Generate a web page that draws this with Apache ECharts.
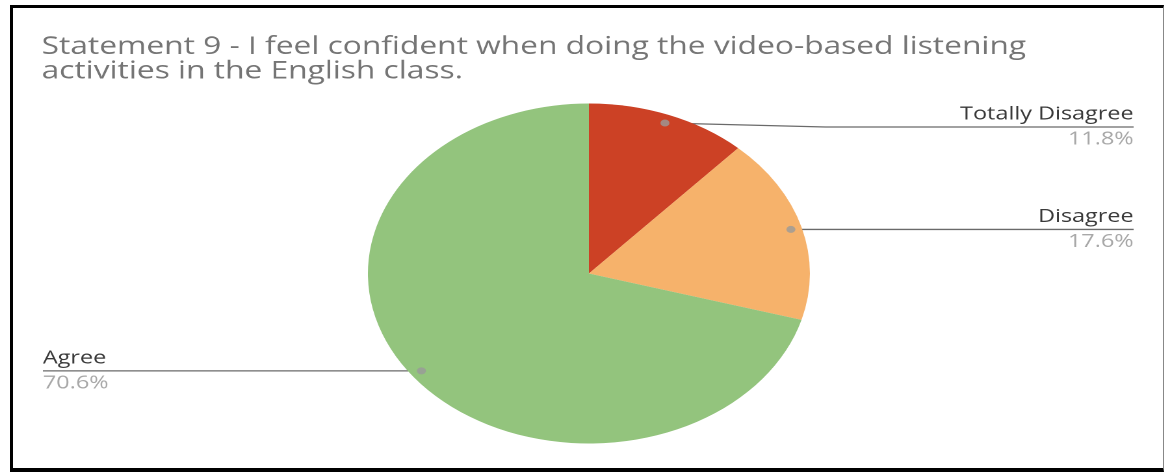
<!DOCTYPE html>
<html>
<head>
<meta charset="utf-8">
<script src="https://cdn.jsdelivr.net/npm/echarts@6/dist/echarts.min.js"></script>
<style>
  html, body { margin: 0; padding: 0; background: #fff; }
  #wrap { position: relative; width: 1164px; height: 472px; overflow: hidden; background: #fff; }
  /* the chart is laid out narrow and stretched horizontally */
  #chart { position: absolute; left: 0; top: 0; width: 895px; height: 472px;
           transform: scaleX(1.3); transform-origin: 0 0; }
  #frame { position: absolute; left: 10px; top: 5px; width: 1150px; height: 460px;
           border-top: 3px solid #000; border-left: 3px solid #000; border-bottom: 4px solid #000;
           border-right: 1px solid #888; pointer-events: none; }
</style>
</head>
<body>
<div id="wrap">
  <div id="chart"></div>
  <div id="frame"></div>
</div>
<script>
// Responses to statement 9
const titleLines = [
  'Statement 9 - I feel confident when doing the video-based listening',
  'activities in the English class.'
];
const categories = ['Totally Disagree', 'Disagree', 'Agree'];
const percents = [11.8, 17.6, 70.6];
const colors = ['#cc4125', '#f6b26b', '#93c47d'];

const chartEl = document.getElementById('chart');
const chart = echarts.init(chartEl, null, { renderer: 'canvas', devicePixelRatio: 2 });

const FONT = 'Open Sans';
const CENTER = [453, 273.5];
const RADIUS = 170;
const DOT_R = 0.95;          // leader lines start inside the slice
const LEFT_EDGE = 33;
const RIGHT_EDGE = 872;
const LABEL_TOP = 127;       // labels stay below the title area
const BEND_GAP = 12;         // leader elbow just outside the pie

// middle of each slice, in percent along the circle
const mids = [];
let acc = 0;
percents.forEach(v => { mids.push(acc + v / 2); acc += v; });

const pieData = categories.map((name, i) => ({
  name, value: percents[i], itemStyle: { color: colors[i] }
}));

const option = {
  backgroundColor: '#fff',
  animation: false,
  title: {
    text: titleLines.join('\n'),
    left: 27, top: 30,
    textStyle: {
      fontFamily: FONT, fontWeight: 'normal', fontSize: 24.4,
      lineHeight: 24.5, color: '#757575'
    }
  },
  polar: { center: CENTER, radius: RADIUS },
  angleAxis: { type: 'value', min: 0, max: 100, startAngle: 90, clockwise: true, show: false },
  radiusAxis: { type: 'value', min: 0, max: 1, show: false },
  series: [
    {
      type: 'pie',
      center: CENTER,
      radius: RADIUS,
      startAngle: 90,
      clockwise: true,
      silent: true,
      data: pieData,
      itemStyle: { borderWidth: 0 },
      label: {
        show: true,
        position: 'outside',
        formatter: p => '{n|' + p.name + '}\n{v|' + p.value.toFixed(1) + '%}',
        rich: {
          n: { fontFamily: FONT, fontSize: 18, color: '#3a3a3a', lineHeight: 25 },
          v: { fontFamily: FONT, fontSize: 18, color: '#a8a8a8', lineHeight: 25 }
        }
      },
      labelLine: { show: true, length: 10, length2: 10, lineStyle: { color: '#6a6a6a', width: 1.3 } },
      labelLayout: function (params) {
        const pts = params.labelLinePoints;
        if (!pts) return {};
        const p0 = pts[0];
        const sx = CENTER[0] + DOT_R * (p0[0] - CENTER[0]);
        const sy = CENTER[1] + DOT_R * (p0[1] - CENTER[1]);
        const isLeft = sx < CENTER[0];
        const ex = isLeft ? LEFT_EDGE : RIGHT_EDGE;
        const ly = Math.max(sy, LABEL_TOP);
        const bx = isLeft ? CENTER[0] - RADIUS - BEND_GAP : CENTER[0] + RADIUS + BEND_GAP;
        return {
          x: ex,
          y: ly,
          align: isLeft ? 'left' : 'right',
          verticalAlign: 'middle',
          labelLinePoints: [[sx, sy], ly === sy ? [sx, sy] : [bx, ly], [ex, ly]]
        };
      }
    },
    {
      // anchor dots where the leader lines begin
      type: 'scatter',
      coordinateSystem: 'polar',
      silent: true,
      symbol: 'circle',
      symbolSize: 7,
      itemStyle: { color: '#9a9a9a' },
      data: mids.map(m => [DOT_R, m]),
      z: 5
    }
  ]
};
chart.setOption(option);
</script>
</body>
</html>
